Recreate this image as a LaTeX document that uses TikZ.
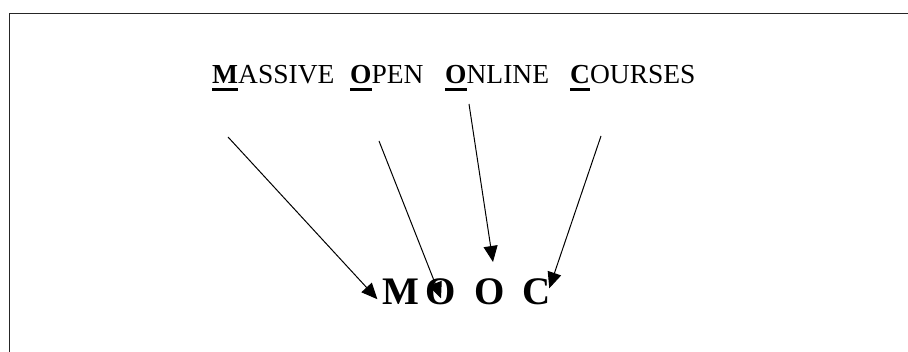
\documentclass[tikz,border=0pt]{standalone}
\usepackage{fontspec}
\setmainfont{Liberation Serif}
\usetikzlibrary{arrows.meta,positioning,calc}

% bold first letter with a heavy underline
\newcommand\keyletter[1]{\setbox0\hbox{\textbf{#1}}\rlap{\rule[-7pt]{\wd0}{2.6pt}}\box0}

\begin{document}
\begin{tikzpicture}[
    x=1pt, y=-1pt,
    word/.style={anchor=base west, inner sep=0pt, font=\fontsize{27.5}{31}\selectfont},
    letter/.style={anchor=base, inner sep=0pt, font=\fontsize{39}{43}\selectfont\bfseries},
    pointer/.style={-{Triangle[length=16pt,width=14pt]}, line width=1pt},
    frame/.style={line width=1.8pt, black!85}
]
\useasboundingbox (0,0) rectangle (908,352);

% Frame (top and left edges only)
\draw[frame] (9.5,352) |- (908,13.5);

% Full name
\node[word] (massive) at (212,84) {\keyletter{M}ASSIVE};
\node[word] (open) at (350,84) {\keyletter{O}PEN};
\node[word] (online) at (445,84) {\keyletter{O}NLINE};
\node[word] (courses) at (570,84) {\keyletter{C}OURSES};

% Acronym
\node[letter] (m) at (401,305) {M};
\node[letter] (o1) at (441,305) {O};
\node[letter] (o2) at (490,305) {O};
\node[letter] (c) at (537,305) {C};

% Arrow starts
\coordinate (s1) at (228,137);
\coordinate (s2) at (379,141);
\coordinate (s3) at (469,104);
\coordinate (s4) at (601,136);

% Arrows
\draw[pointer] (s1) -- ($(m.west)+(-5,7)$);
\draw[pointer] (s2) -- ($(o1.center)+(0,6)$);
\draw[pointer] (s3) -- ($(o2.north)+(3,-17)$);
\draw[pointer] (s4) -- ($(c.east)+(-2,-4)$);

\end{tikzpicture}
\end{document}
